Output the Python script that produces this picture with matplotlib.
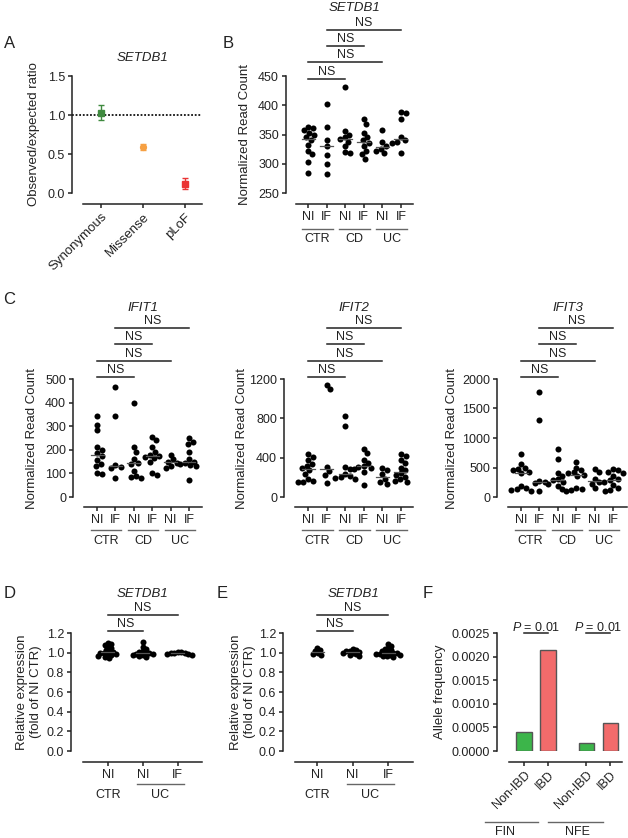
import numpy as np
import matplotlib
matplotlib.use("Agg")
import matplotlib.pyplot as plt
import matplotlib.transforms as mtransforms
from matplotlib.ticker import FormatStrFormatter

W, H = 628, 838
DPI = 100
PT = DPI / 72.0  # pixels per point

plt.rcParams['font.family'] = ['Liberation Sans', 'DejaVu Sans']
plt.rcParams['mathtext.fontset'] = 'custom'
plt.rcParams['mathtext.rm'] = 'Liberation Sans'
plt.rcParams['mathtext.it'] = 'Liberation Sans:italic'
plt.rcParams['axes.linewidth'] = 1.1
plt.rcParams['text.color'] = '#222222'
plt.rcParams['xtick.color'] = '#222222'
plt.rcParams['ytick.color'] = '#222222'

# ---- data ----
# A: observed / expected ratio
a_cats = ["Synonymous", "Missense", "pLoF"]
a_ratio = [1.03, 0.59, 0.11]
a_low = [0.93, 0.55, 0.05]
a_high = [1.13, 0.63, 0.19]
a_colors = ["#3f8a3f", "#f6a043", "#ea3434"]
a_markers = ["s", "o", "s"]

# B/C: normalized read counts, order CTR NI, CTR IF, CD NI, CD IF, UC NI, UC IF
six_labels = ["NI", "IF", "NI", "IF", "NI", "IF"]
setdb1_reads = [
    [363, 361, 357, 353, 350, 345, 340, 332, 322, 316, 303, 285],
    [402, 362, 340, 330, 315, 300, 283],
    [432, 356, 350, 345, 342, 338, 330, 320, 318],
    [376, 368, 352, 345, 340, 336, 330, 322, 316, 308],
    [358, 337, 330, 326, 322, 318],
    [388, 386, 376, 345, 340, 338, 336, 318],
]
ifit1_reads = [
    [345, 305, 282, 212, 200, 185, 175, 155, 140, 130, 100, 96],
    [468, 345, 135, 128, 125, 80],
    [397, 210, 190, 160, 145, 140, 110, 90, 85, 82],
    [255, 240, 210, 190, 180, 175, 170, 165, 150, 100, 95],
    [180, 160, 150, 145, 130, 125],
    [250, 235, 225, 190, 160, 150, 145, 140, 135, 130, 70],
]
ifit2_reads = [
    [440, 410, 380, 340, 320, 300, 270, 230, 180, 165, 155, 150],
    [1140, 1100, 310, 260, 220, 140],
    [820, 720, 310, 280, 230, 210, 200, 190, 185],
    [490, 450, 380, 350, 320, 310, 300, 280, 250, 120],
    [290, 270, 230, 180, 150, 130],
    [440, 420, 380, 350, 300, 270, 240, 220, 200, 180, 160, 150],
]
ifit3_reads = [
    [730, 560, 500, 480, 450, 430, 400, 180, 150, 130, 120, 110],
    [1780, 1300, 270, 250, 230, 100],
    [820, 640, 400, 350, 300, 280, 260, 220, 180, 130],
    [600, 500, 450, 420, 400, 380, 350, 150, 130, 120, 110],
    [480, 420, 300, 250, 220, 150],
    [470, 450, 430, 400, 350, 300, 280, 250, 200, 150, 120, 110],
]

# D/E: relative expression, order CTR NI, UC NI, UC IF
three_labels = ["NI", "NI", "IF"]
d_rel = [
    [1.10, 1.09, 1.08, 1.06, 1.05, 1.03, 1.02, 1.01, 1.0, 1.0, 0.99, 0.99, 0.98, 0.97, 0.96, 0.95],
    [1.11, 1.06, 1.04, 1.02, 1.01, 1.0, 1.0, 0.99, 0.99, 0.98, 0.98, 0.97, 0.96],
    [1.01, 1.01, 1.0, 1.0, 1.0, 0.99, 0.99, 0.98],
]
e_rel = [
    [1.05, 1.03, 1.02, 1.0, 0.99, 0.98],
    [1.04, 1.03, 1.02, 1.02, 1.01, 1.0, 1.0, 0.99, 0.98, 0.97],
    [1.09, 1.07, 1.05, 1.04, 1.03, 1.02, 1.01, 1.0, 1.0, 1.0, 0.99, 0.99, 0.98, 0.98, 0.97, 0.97, 0.96],
]

# F: allele frequency
f_labels = ["Non-IBD", "IBD", "Non-IBD", "IBD"]
f_freq = [0.0004, 0.00215, 0.00017, 0.0006]
f_colors = ["#3cb54a", "#f26b6b", "#3cb54a", "#f26b6b"]
f_pops = ["FIN", "NFE"]
f_pvals = ["0.01", "0.01"]

DOT_D = 5.4       # swarm spacing, px
DOT_S = 19        # marker area, pt^2
MED_W = 13        # median line width, px

fig = plt.figure(figsize=(W / DPI, H / DPI), dpi=DPI)


def px_axes(l, t, r, b):
    return fig.add_axes([l / W, 1 - b / H, (r - l) / W, (b - t) / H])


def fy(y):
    return 1 - y / H


def base_style(ax, l, b, spine_x, axis_y):
    ax.spines['top'].set_visible(False)
    ax.spines['right'].set_visible(False)
    ax.spines['left'].set_position(('outward', (l - spine_x) / PT))
    ax.spines['bottom'].set_position(('outward', (axis_y - b) / PT))
    ax.spines['left'].set_color('#222222')
    ax.spines['bottom'].set_color('#222222')
    ax.tick_params(axis='both', length=3, width=1.1, labelsize=9, pad=2)
    ax.patch.set_alpha(0)


def swarm(vals, d):
    # place each point at the offset nearest the centre that does not overlap
    placed = []
    offs = []
    for v in vals:
        cands = [0.0]
        for px, py in placed:
            dy = v - py
            if abs(dy) < d:
                dx = np.sqrt(d * d - dy * dy)
                cands += [px + dx, px - dx]
        cands.sort(key=abs)
        for c in cands:
            if all((c - px) ** 2 + (v - py) ** 2 >= d * d - 1e-6 for px, py in placed):
                break
        placed.append((c, v))
        offs.append(c)
    return offs


def dot_panel(box, spine_x, axis_y, xlim, ylim, yticks, groups, xlabels,
              spans, brackets, title, title_y, ylabel, ylabel_x,
              line_y, cohort_y, fmt=None, dot_d=DOT_D):
    l, t, r, b = box
    ax = px_axes(l, t, r, b)
    base_style(ax, l, b, spine_x, axis_y)
    ax.set_xlim(*xlim)
    ax.set_ylim(*ylim)
    ax.set_yticks(yticks)
    if fmt:
        ax.yaxis.set_major_formatter(FormatStrFormatter(fmt))
    xppu = (r - l) / (xlim[1] - xlim[0])
    yppu = (b - t) / (ylim[1] - ylim[0])
    for i, vals in enumerate(groups):
        vals = sorted(vals, reverse=True)
        offs = swarm([v * yppu for v in vals], dot_d)
        ax.scatter([i + o / xppu for o in offs], vals, s=DOT_S, color='black',
                   lw=0, zorder=3, clip_on=False)
        med = np.median(vals)
        hw = MED_W / 2 / xppu
        ax.plot([i - hw, i + hw], [med, med], color='#555555', lw=0.9, zorder=4)
    ax.set_xticks(range(len(groups)))
    ax.set_xticklabels(xlabels, fontsize=9)

    trans = mtransforms.blended_transform_factory(ax.transData, fig.transFigure)
    pad = 6 / xppu
    for name, i0, i1, under in spans:
        if under:
            ax.plot([i0 - pad, i1 + pad], [fy(line_y)] * 2, color='#666666', lw=1.0,
                    transform=trans, clip_on=False)
        ax.text((i0 + i1) / 2, fy(cohort_y), name, transform=trans, fontsize=9,
                ha='center', va='center')
    for i, j, y in brackets:
        ax.plot([i, j], [fy(y)] * 2, color='#222222', lw=1.1, transform=trans,
                clip_on=False)
        ax.text((i + j) / 2, fy(y - 1), "NS", transform=trans, fontsize=9,
                ha='center', va='bottom')
    fig.text(((l + r) / 2) / W, fy(title_y), title, fontsize=9.5, style='italic',
             ha='center', va='center')
    fig.text(ylabel_x / W, fy((t + b) / 2), ylabel, fontsize=9.5, rotation=90,
             ha='center', va='center', multialignment='center')
    return ax


# ---- panel A ----
axA = px_axes(83, 76, 202, 193)
base_style(axA, 83, 193, 72, 204)
axA.set_xlim(-0.43, 2.40)
axA.set_ylim(0, 1.5)
axA.set_yticks([0, 0.5, 1.0, 1.5])
axA.yaxis.set_major_formatter(FormatStrFormatter('%.1f'))
for i in range(len(a_cats)):
    axA.errorbar(i, a_ratio[i], yerr=[[a_ratio[i] - a_low[i]], [a_high[i] - a_ratio[i]]],
                 fmt=a_markers[i], color=a_colors[i], ms=4.2, capsize=2.5,
                 elinewidth=1.0, capthick=1.0, zorder=3)
axA.axhline(1.0, xmin=-11 / 119, xmax=1, ls=(0, (1, 1)), color='#111111', lw=1.3,
            clip_on=False, zorder=2)
axA.set_xticks(range(len(a_cats)))
axA.set_xticklabels(a_cats, rotation=45, ha='right', rotation_mode='anchor', fontsize=9.5)
fig.text(142.5 / W, fy(58), "SETDB1", fontsize=9.5, style='italic', ha='center', va='center')
fig.text(34 / W, fy(134), "Observed/expected ratio", fontsize=9.5, rotation=90,
         ha='center', va='center')

# ---- panel B ----
pairs = [("CTR", 0, 1, True), ("CD", 2, 3, True), ("UC", 4, 5, True)]
dot_panel((296, 76, 413, 193), 286, 204, (-0.65, 5.65), (250, 450),
          [250, 300, 350, 400, 450], setdb1_reads, six_labels, pairs,
          [(0, 2, 79), (0, 4, 62), (1, 3, 46), (1, 5, 30)],
          "SETDB1", 8, "Normalized Read Count", 245, 229, 239)

# ---- panel C ----
dot_panel((84, 379, 202, 497), 73, 507, (-0.71, 5.71), (0, 500),
          [0, 100, 200, 300, 400, 500], ifit1_reads, six_labels, pairs,
          [(0, 2, 377), (0, 4, 361), (1, 3, 344), (1, 5, 328)],
          "IFIT1", 308, "Normalized Read Count", 32, 530, 541)
dot_panel((295, 379, 413, 497), 284, 507, (-0.70, 5.65), (0, 1200),
          [0, 400, 800, 1200], ifit2_reads, six_labels, pairs,
          [(0, 2, 377), (0, 4, 361), (1, 3, 344), (1, 5, 328)],
          "IFIT2", 308, "Normalized Read Count", 242, 530, 541)
dot_panel((508, 379, 627, 497), 497, 507, (-0.71, 5.76), (0, 2000),
          [0, 500, 1000, 1500, 2000], ifit3_reads, six_labels, pairs,
          [(0, 2, 377), (0, 4, 361), (1, 3, 344), (1, 5, 328)],
          "IFIT3", 308, "Normalized Read Count", 452, 530, 541)

# ---- panels D, E ----
trio = [("CTR", 0, 0, False), ("UC", 1, 2, True)]
rel_label = "Relative expression\n(fold of NI CTR)"
dot_panel((83, 633, 202, 751), 71, 762, (-0.71, 2.69), (0, 1.2),
          [0, 0.2, 0.4, 0.6, 0.8, 1.0, 1.2], d_rel, three_labels, trio,
          [(0, 1, 631), (0, 2, 615)],
          "SETDB1", 594, rel_label, 29, 784, 795, fmt='%.1f', dot_d=3.6)
dot_panel((295, 633, 413, 751), 283, 762, (-0.62, 2.70), (0, 1.2),
          [0, 0.2, 0.4, 0.6, 0.8, 1.0, 1.2], e_rel, three_labels, trio,
          [(0, 1, 631), (0, 2, 615)],
          "SETDB1", 594, rel_label, 243, 784, 795, fmt='%.1f', dot_d=3.6)

# ---- panel F ----
axF = px_axes(509, 633, 622, 751)
base_style(axF, 509, 751, 497, 762)
f_x = [0, 1, 2.6, 3.6]
axF.bar(f_x, f_freq, width=0.65, color=f_colors, edgecolor='#555555', lw=1.0, zorder=3)
axF.set_xlim(-0.625, 4.08)
axF.set_ylim(0, 0.0025)
axF.set_yticks([0, 0.0005, 0.0010, 0.0015, 0.0020, 0.0025])
axF.yaxis.set_major_formatter(FormatStrFormatter('%.4f'))
axF.set_xticks(f_x)
axF.set_xticklabels(f_labels, rotation=45, ha='right', rotation_mode='anchor', fontsize=9)
transF = mtransforms.blended_transform_factory(axF.transData, fig.transFigure)
for k, pv in enumerate(f_pvals):
    i, j = f_x[2 * k], f_x[2 * k + 1]
    axF.plot([i, j], [fy(633)] * 2, color='#222222', lw=1.1, transform=transF, clip_on=False)
    axF.text((i + j) / 2, fy(631), "$\\it{P}$ = " + pv, transform=transF, fontsize=9,
             ha='center', va='baseline')
for name, x0, x1, xt in [(f_pops[0], 485, 538, 505), (f_pops[1], 548, 603, 577)]:
    fig.add_artist(plt.Line2D([x0 / W, x1 / W], [fy(822)] * 2, color='#666666', lw=1.0))
    fig.text(xt / W, fy(832), name, fontsize=9, ha='center', va='center')
fig.text(440 / W, fy(692), "Allele frequency", fontsize=9.5, rotation=90,
         ha='center', va='center')

# ---- panel letters ----
for letter, x, y in [("A", 10, 43), ("B", 228, 43), ("C", 9, 300),
                     ("D", 10, 593), ("E", 222, 593), ("F", 428, 593)]:
    fig.text(x / W, fy(y), letter, fontsize=12, ha='center', va='center')

fig.savefig("out.png", dpi=DPI)
